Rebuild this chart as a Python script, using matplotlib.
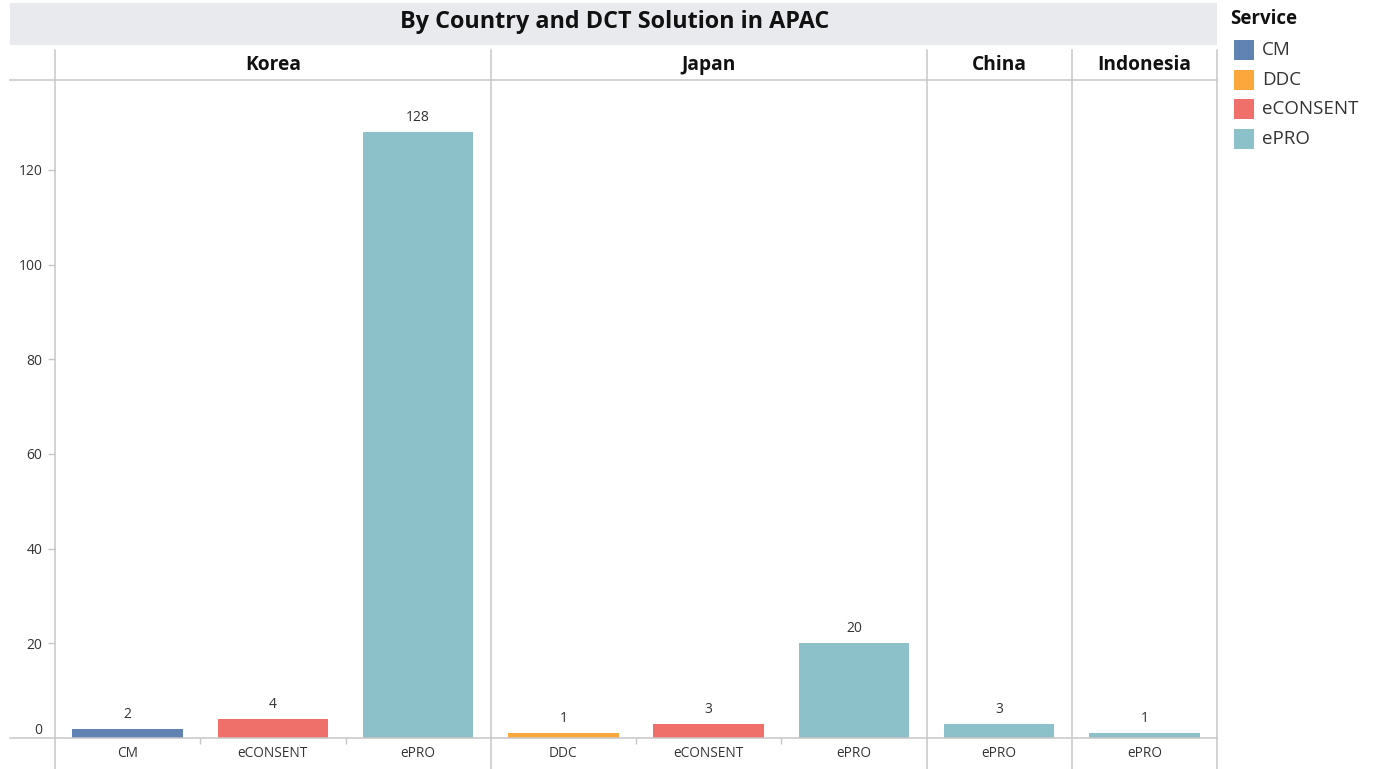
import matplotlib.pyplot as plt
import matplotlib.transforms as mtransforms
from matplotlib.lines import Line2D
from matplotlib.patches import Rectangle

plt.rcParams['font.family'] = ['Open Sans', 'DejaVu Sans']

# data
countries = ['Korea', 'Japan', 'China', 'Indonesia']
services = [['CM', 'eCONSENT', 'ePRO'],
            ['DDC', 'eCONSENT', 'ePRO'],
            ['ePRO'],
            ['ePRO']]
counts = [[2, 4, 128],
          [1, 3, 20],
          [3],
          [1]]
legend_items = ['CM', 'DDC', 'eCONSENT', 'ePRO']
colors = {'CM': '#6083b4', 'DDC': '#fba73c', 'eCONSENT': '#ef6f6b', 'ePRO': '#8dc1ca'}

W, H = 1373, 769
fig = plt.figure(figsize=(W / 100, H / 100), dpi=100)

def fx(x):
    return x / W

def fy(y):
    return 1 - y / H

line_col = '#c6c6c6'
ax = fig.add_axes([fx(55), fy(738), fx(1217 - 55), (738 - 80) / H])

# bars
xs, heights, cols, labels = [], [], [], []
bounds = [-0.5]
pos = 0
for grp, vals in zip(services, counts):
    for s, v in zip(grp, vals):
        xs.append(pos)
        heights.append(v)
        cols.append(colors[s])
        labels.append(s)
        pos += 1
    bounds.append(pos - 0.5)

ax.bar(xs, heights, width=0.76, color=cols, zorder=2)
for x, v in zip(xs, heights):
    ax.annotate(str(v), (x, v), xytext=(0, 5), textcoords='offset points',
                ha='center', va='bottom', fontsize=10, color='#333333')

ax.set_xlim(-0.5, pos - 0.5)
ax.set_ylim(0, 139)
for sp in ax.spines.values():
    sp.set_visible(False)

ax.set_xticks(xs)
ax.set_xticklabels(labels, fontsize=9.8, color='#333333')
ax.tick_params(axis='x', length=0, pad=6)
minor = [bounds[i] + k for i in range(len(services)) for k in range(1, len(services[i]))]
ax.set_xticks(minor, minor=True)
ax.tick_params(axis='x', which='minor', length=4, color=line_col, width=1)

ax.set_yticks(range(0, 121, 20))
ax.set_yticklabels([str(v) for v in range(0, 121, 20)], fontsize=10, color='#333333')
ax.tick_params(axis='y', length=5, color=line_col, width=1, pad=4)
ax.yaxis.get_major_ticks()[0].label1.set_verticalalignment('bottom')
ax.yaxis.get_major_ticks()[0].tick1line.set_visible(False)

# panel separators and header row
trans = mtransforms.blended_transform_factory(ax.transData, fig.transFigure)
for b in bounds:
    fig.add_artist(Line2D([b, b], [fy(50), 0], transform=trans, color=line_col, lw=1.1))
fig.add_artist(Line2D([fx(10), fx(1217)], [fy(80), fy(80)], color=line_col, lw=1.1))
fig.add_artist(Line2D([fx(10), fx(1217)], [fy(738), fy(738)], color=line_col, lw=1.1))
for i, c in enumerate(countries):
    mid = (bounds[i] + bounds[i + 1]) / 2
    fig.text(mid, fy(65), c, transform=trans, ha='center', va='center',
             fontsize=13.8, fontweight='bold', color='#111111')

# title band
fig.add_artist(Rectangle((fx(10), fy(45)), fx(1207), (45 - 3) / H,
                         transform=fig.transFigure, color='#e9eaee', lw=0))
fig.text(fx(615), fy(22), 'By Country and DCT Solution in APAC', ha='center', va='center',
         fontsize=16.8, fontweight='bold', color='#111111')

# legend
fig.text(fx(1230), fy(19), 'Service', ha='left', va='center', fontsize=13.5,
         fontweight='bold', color='#111111')
for i, s in enumerate(legend_items):
    yc = 50 + i * 29.7
    fig.add_artist(Rectangle((fx(1234), fy(yc + 10)), fx(20), 20 / H,
                             transform=fig.transFigure, color=colors[s], lw=0))
    fig.text(fx(1262), fy(yc), s, ha='left', va='center', fontsize=13.5, color='#333333')

fig.savefig('out.png', dpi=100, facecolor='white')
